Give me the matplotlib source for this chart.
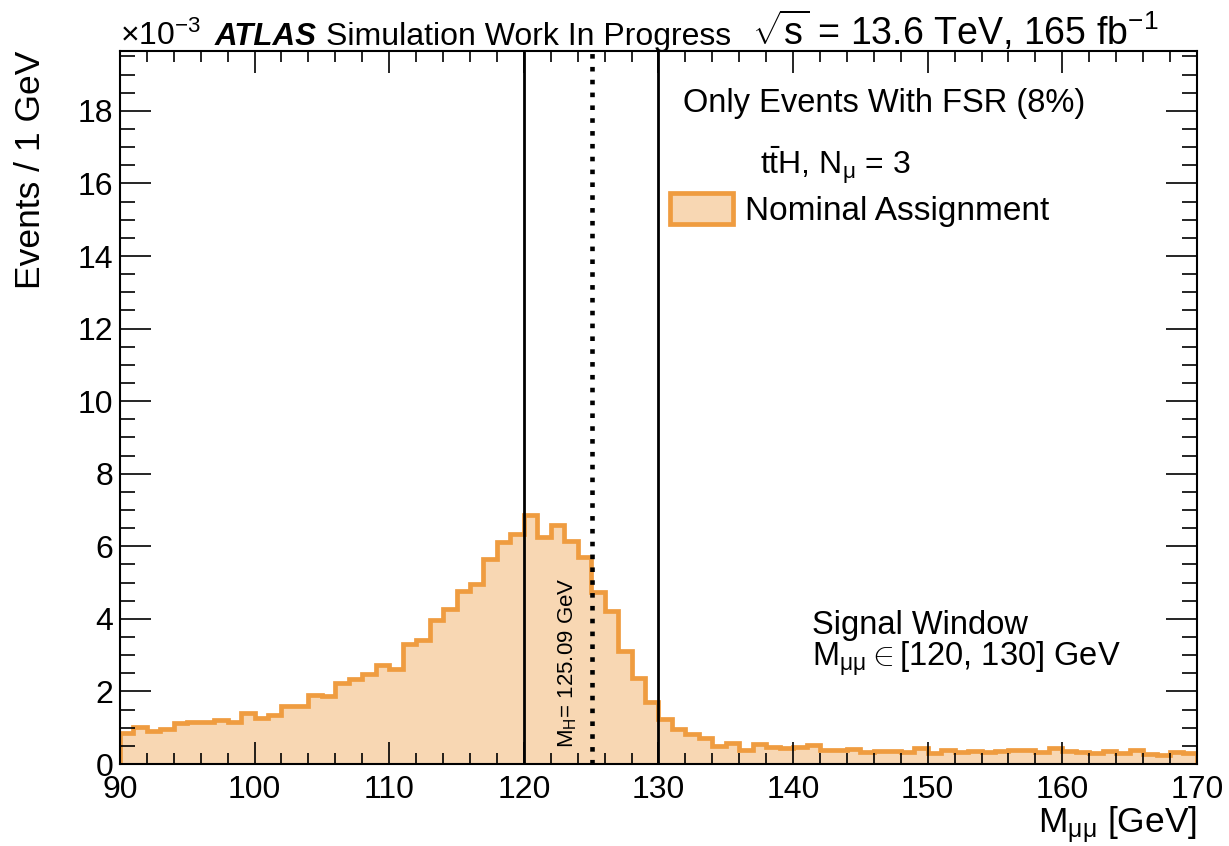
import numpy as np
import matplotlib
matplotlib.use('Agg')
import matplotlib.pyplot as plt
from matplotlib.patches import Patch
from matplotlib.ticker import MultipleLocator

# 1 GeV bins from 90 to 170 GeV
bin_edges = np.arange(90, 171, 1)

# ttH, N_mu = 3, events with FSR, nominal muon assignment (units of 1e-3 events / GeV)
nominal = [
    0.85, 1.02, 0.92, 0.97, 1.14, 1.15, 1.17, 1.22, 1.15, 1.40,   # 90-99
    1.27, 1.36, 1.60, 1.60, 1.90, 1.88, 2.24, 2.33, 2.47, 2.74,   # 100-109
    2.62, 3.30, 3.43, 3.98, 4.28, 4.77, 4.96, 5.66, 6.12, 6.35,   # 110-119
    6.86, 6.27, 6.59, 6.15, 5.70, 4.73, 4.22, 3.12, 2.38, 1.70,   # 120-129
    1.23, 0.96, 0.84, 0.72, 0.51, 0.57, 0.40, 0.55, 0.46, 0.44,   # 130-139
    0.46, 0.52, 0.40, 0.40, 0.42, 0.32, 0.35, 0.37, 0.33, 0.43,   # 140-149
    0.31, 0.40, 0.34, 0.36, 0.34, 0.35, 0.40, 0.38, 0.34, 0.43,   # 150-159
    0.35, 0.34, 0.31, 0.35, 0.29, 0.38, 0.28, 0.26, 0.34, 0.31,   # 160-169
]

signal_window = [120, 130]
m_higgs = 125.09

fill_col = '#f8d7b3'
line_col = '#ef9c40'

plt.rcParams['font.family'] = ['Liberation Sans', 'DejaVu Sans']
plt.rcParams['mathtext.fontset'] = 'custom'
plt.rcParams['mathtext.rm'] = 'Liberation Sans'
plt.rcParams['mathtext.it'] = 'Liberation Sans'
plt.rcParams['mathtext.bf'] = 'Liberation Sans:bold'

fig = plt.figure(figsize=(12.29, 8.46), dpi=100)
ax = fig.add_axes([0.0976, 0.0969, 0.8763, 0.8428])

# histogram: filled body + outline
ax.stairs(nominal, bin_edges, fill=True, color=fill_col, lw=0)
ax.stairs(nominal, bin_edges, baseline=0, color=line_col, lw=3.4)

# signal window and Higgs mass
for edge in signal_window:
    ax.axvline(edge, color='k', lw=2.0, zorder=4)
ax.axvline(m_higgs, color='k', lw=3.3, ls=(0, (1.0, 1.8)), zorder=4)

ax.set_xlim(90, 170)
ax.set_ylim(0, 19.65)

ax.xaxis.set_major_locator(MultipleLocator(10))
ax.xaxis.set_minor_locator(MultipleLocator(2))
ax.yaxis.set_major_locator(MultipleLocator(2))
ax.yaxis.set_minor_locator(MultipleLocator(0.5))
ax.tick_params(which='both', direction='in', top=True, right=True, width=1.2)
ax.tick_params(axis='x', which='major', length=16, labelsize=23, pad=8)
ax.tick_params(axis='x', which='minor', length=8)
ax.tick_params(axis='y', which='major', length=22, labelsize=23, pad=5)
ax.tick_params(axis='y', which='minor', length=11)
for sp in ax.spines.values():
    sp.set_linewidth(1.5)

ax.set_xlabel(r'M$_{\mu\mu}$ [GeV]', fontsize=25.5, loc='right')
ax.xaxis.set_label_coords(1.0, -0.056)
ax.set_ylabel('Events / 1 GeV', fontsize=25.5, loc='top')
ax.yaxis.set_label_coords(-0.068, 1.0)

# header line
fig.text(0.0976, 0.9468, r'×10$^{-3}$', fontsize=23, va='baseline')
fig.text(0.1749, 0.9468, 'ATLAS', fontsize=22.5, fontweight='bold', fontstyle='italic', va='baseline')
fig.text(0.2653, 0.9468, 'Simulation Work In Progress', fontsize=23, va='baseline')
fig.text(0.6119, 0.9468, r'$\sqrt{s}$ = 13.6 TeV, 165 fb$^{-1}$', fontsize=27, va='baseline')

# labels inside the frame
fig.text(0.5557, 0.8676, 'Only Events With FSR (8%)', fontsize=23.5, va='baseline')
fig.text(0.6184, 0.7943, r'$\mathrm{t\bar{t}H}$, N$_{\mu}$ = 3', fontsize=23, va='baseline')
ax.legend(handles=[Patch(facecolor=fill_col, edgecolor=line_col, lw=3.4)],
          labels=['Nominal Assignment'], loc='upper left',
          bbox_to_anchor=(0.5452, 0.7719), bbox_transform=fig.transFigure,
          frameon=False, fontsize=24, handlelength=1.9, handleheight=1.05,
          handletextpad=0.36, borderpad=0, borderaxespad=0)

fig.text(0.6607, 0.2506, 'Signal Window', fontsize=23.5, va='baseline')
fig.text(0.6607, 0.2116, r'M$_{\mu\mu}\in$[120, 130] GeV', fontsize=23.5, va='baseline')

ax.text(123.65, 0.45, r'M$_{H}$= 125.09 GeV', fontsize=16, rotation=90,
        rotation_mode='anchor', ha='left', va='baseline')

fig.savefig('out.png', dpi=100)
